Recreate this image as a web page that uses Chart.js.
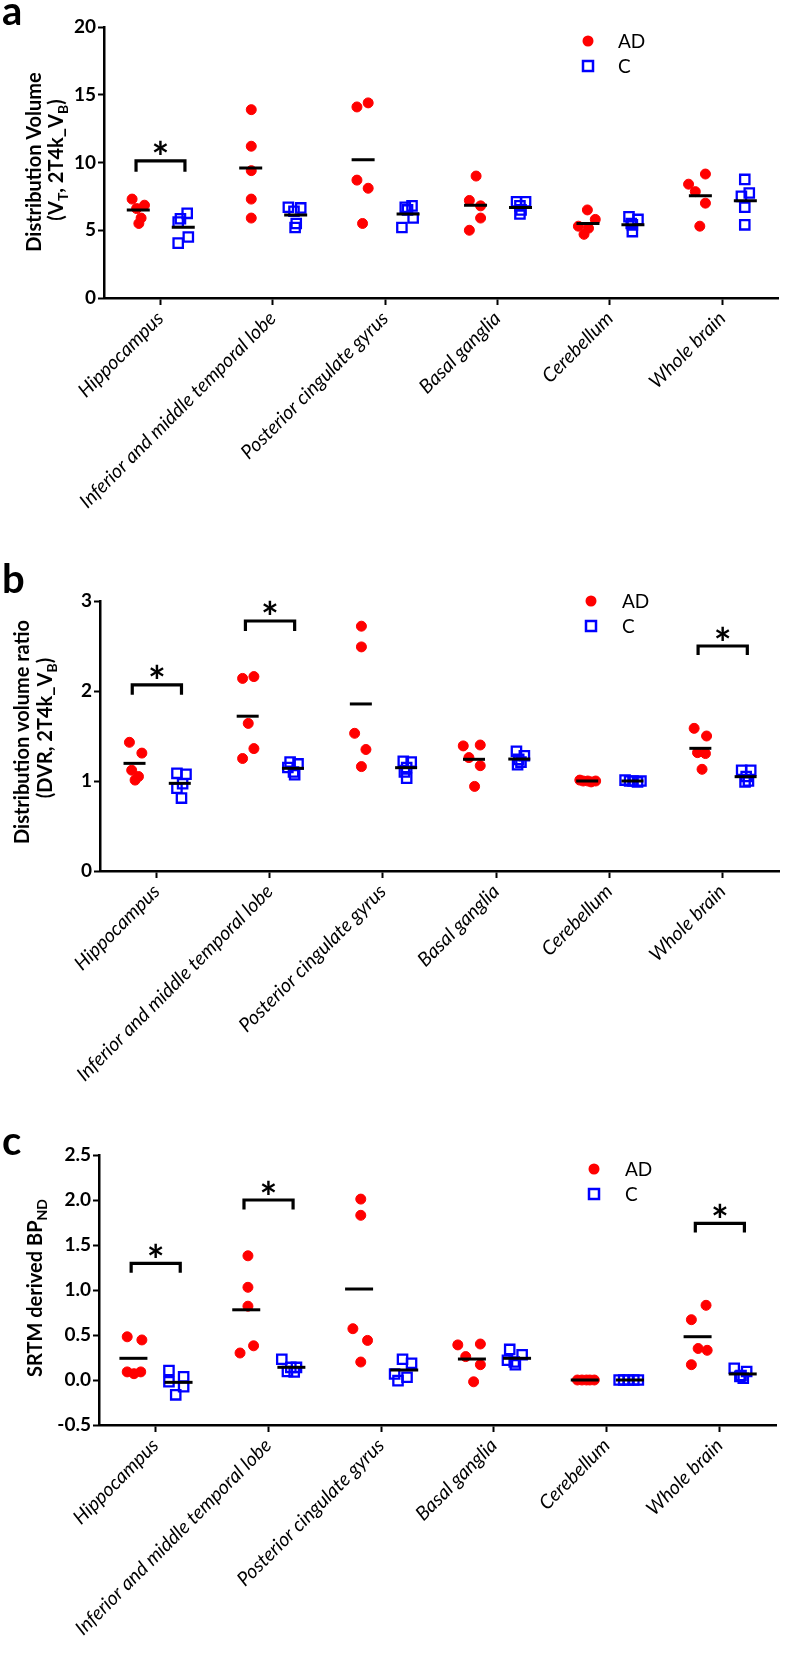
<!DOCTYPE html>
<html><head><meta charset="utf-8">
<script src="https://cdn.jsdelivr.net/npm/chart.js@4.4.1/dist/chart.umd.min.js"></script>
<style>
html,body{margin:0;padding:0;background:#fff;}
body{width:793px;height:1654px;position:relative;overflow:hidden;}
canvas{position:absolute;left:0;}
</style></head><body>
<canvas id="ca" width="793" height="560" style="top:0px"></canvas>
<canvas id="cb" width="793" height="570" style="top:560px"></canvas>
<canvas id="cc" width="793" height="524" style="top:1130px"></canvas>
<script>
// ---------- DATA ----------
const categories = ['Hippocampus', 'Inferior and middle temporal lobe', 'Posterior cingulate gyrus', 'Basal ganglia', 'Cerebellum', 'Whole brain'];
const groups = ['AD', 'C'];

// Panel a: Distribution Volume (VT, 2T4k_VB)
const aTicks = [0, 5, 10, 15, 20];
const aTickLabels = ['0', '5', '10', '15', '20'];
const aAD = [[7.3, 6.85, 6.6, 5.9, 5.5], [13.9, 11.2, 9.4, 7.3, 5.9], [14.4, 14.1, 8.7, 8.1, 5.5], [9.0, 7.2, 6.8, 5.9, 5.0], [6.5, 5.8, 5.3, 5.15, 4.7], [9.15, 8.4, 7.85, 7.0, 5.3]];
const aADjit = [[-0.25, -0.14, -0.21, -0.17, -0.19], [-0.19, -0.19, -0.19, -0.19, -0.19], [-0.15, -0.25, -0.25, -0.15, -0.20], [-0.19, -0.25, -0.15, -0.15, -0.25], [-0.20, -0.13, -0.28, -0.19, -0.23], [-0.15, -0.30, -0.24, -0.15, -0.20]];
const aC = [[6.25, 5.85, 5.6, 4.5, 4.05], [6.7, 6.65, 6.4, 5.5, 5.2], [6.8, 6.7, 6.5, 5.9, 5.2], [7.1, 7.1, 6.8, 6.5, 6.2], [6.0, 5.8, 5.5, 5.4, 4.9], [8.75, 7.75, 7.5, 6.7, 5.4]];
const aCjit = [[0.24, 0.18, 0.16, 0.25, 0.16], [0.14, 0.25, 0.19, 0.21, 0.20], [0.24, 0.18, 0.20, 0.25, 0.15], [0.17, 0.25, 0.20, 0.21, 0.20], [0.17, 0.25, 0.19, 0.20, 0.20], [0.20, 0.24, 0.17, 0.20, 0.20]];
const aMeanAD = [6.5, 9.6, 10.2, 6.85, 5.5, 7.55];
const aMeanC = [5.22, 6.13, 6.2, 6.67, 5.4, 7.17];
const aSig = [{cat: 0, top: 10.12, drop: 0.8}];

// Panel b: Distribution volume ratio (DVR, 2T4k_VB)
const bTicks = [0, 1, 2, 3];
const bTickLabels = ['0', '1', '2', '3'];
const bAD = [[1.43, 1.31, 1.12, 1.05, 1.01], [2.16, 2.14, 1.64, 1.36, 1.25], [2.72, 2.49, 1.53, 1.35, 1.16], [1.40, 1.39, 1.26, 1.17, 0.94], [1.01, 1.0, 1.0, 0.99, 1.0], [1.585, 1.5, 1.315, 1.305, 1.13]];
const bADjit = [[-0.24, -0.13, -0.22, -0.16, -0.19], [-0.14, -0.24, -0.19, -0.14, -0.24], [-0.19, -0.19, -0.25, -0.15, -0.19], [-0.14, -0.29, -0.24, -0.14, -0.19], [-0.26, -0.23, -0.19, -0.16, -0.12], [-0.25, -0.14, -0.22, -0.15, -0.18]];
const bC = [[1.085, 1.075, 0.97, 0.92, 0.81], [1.21, 1.19, 1.15, 1.10, 1.07], [1.22, 1.21, 1.15, 1.10, 1.03], [1.33, 1.28, 1.24, 1.21, 1.18], [1.01, 1.0, 1.0, 0.99, 1.0], [1.12, 1.12, 1.05, 0.99, 1.0]];
const bCjit = [[0.18, 0.26, 0.23, 0.18, 0.22], [0.18, 0.25, 0.16, 0.21, 0.22], [0.18, 0.25, 0.21, 0.19, 0.21], [0.18, 0.25, 0.20, 0.22, 0.19], [0.14, 0.18, 0.21, 0.25, 0.28], [0.17, 0.25, 0.21, 0.20, 0.23]];
const bMeanAD = [1.196, 1.72, 1.856, 1.241, 1.0, 1.363];
const bMeanC = [0.974, 1.141, 1.148, 1.244, 1.0, 1.048];
const bSig = [{cat: 0, top: 2.067, drop: 0.11}, {cat: 1, top: 2.778, drop: 0.11}, {cat: 5, top: 2.5, drop: 0.1}];

// Panel c: SRTM derived BPND
const cTicks = [-0.5, 0, 0.5, 1, 1.5, 2, 2.5];
const cTickLabels = ['-0.5', '0.0', '0.5', '1.0', '1.5', '2.0', '2.5'];
const cAD = [[0.48, 0.445, 0.09, 0.07, 0.09], [1.38, 1.03, 0.82, 0.38, 0.30], [2.01, 1.83, 0.57, 0.44, 0.20], [0.39, 0.40, 0.26, 0.17, -0.02], [0, 0, 0, 0, 0], [0.83, 0.67, 0.35, 0.33, 0.17]];
const cADjit = [[-0.25, -0.12, -0.25, -0.19, -0.13], [-0.18, -0.18, -0.18, -0.13, -0.25], [-0.18, -0.18, -0.25, -0.12, -0.18], [-0.32, -0.12, -0.25, -0.12, -0.18], [-0.26, -0.22, -0.18, -0.15, -0.11], [-0.12, -0.25, -0.19, -0.11, -0.25]];
const cC = [[0.105, 0.035, -0.02, -0.075, -0.165], [0.23, 0.14, 0.14, 0.095, 0.09], [0.23, 0.185, 0.067, 0.03, -0.007], [0.34, 0.28, 0.22, 0.17, 0.2], [0, 0, 0, 0, 0], [0.13, 0.095, 0.04, 0.05, 0.02]];
const cCjit = [[0.12, 0.25, 0.12, 0.25, 0.18], [0.12, 0.20, 0.25, 0.17, 0.23], [0.19, 0.27, 0.12, 0.23, 0.15], [0.14, 0.25, 0.12, 0.19, 0.18], [0.11, 0.15, 0.19, 0.24, 0.28], [0.13, 0.24, 0.18, 0.19, 0.21]];
const cMeanAD = [0.241, 0.78, 1.011, 0.233, 0.0, 0.481];
const cMeanC = [-0.026, 0.141, 0.111, 0.241, 0.0, 0.067];
const cSig = [{cat: 0, top: 1.296, drop: 0.105}, {cat: 1, top: 2.0, drop: 0.105}, {cat: 5, top: 1.74, drop: 0.1}];

// ---------- STYLE ----------
const RED = '#ff0000', BLUE = '#0000ff', BLACK = '#000000';
const FONT = 'Lato';
const GROUP_POS = [-0.195, 0.205];
const BR_L = -0.215, BR_R = 0.22;

function pts(vals, jit) {
  const out = [];
  vals.forEach((row, i) => row.forEach((v, k) => out.push({x: i + jit[i][k], y: v})));
  return out;
}
function meanPts(means, g) { return means.map((v, i) => ({x: i + GROUP_POS[g], y: v})); }

function drawRich(ctx, parts, cx, cy, size) {
  const main = `bold ${size}px ${FONT}`, sub = `bold ${Math.round(size * 0.68)}px ${FONT}`;
  let w = 0;
  const ws = parts.map(p => { ctx.font = p.sub ? sub : main; const m = ctx.measureText(p.t).width; w += m; return m; });
  ctx.save();
  ctx.translate(cx, cy);
  ctx.rotate(-Math.PI / 2);
  ctx.textBaseline = 'middle'; ctx.textAlign = 'left'; ctx.fillStyle = BLACK;
  let x = -w / 2;
  parts.forEach((p, i) => { ctx.font = p.sub ? sub : main; ctx.fillText(p.t, x, p.sub ? size * 0.32 : 0); x += ws[i]; });
  ctx.restore();
}
function textMid(ctx, t, x, y, font, align) {
  ctx.font = font; ctx.textAlign = align || 'left'; ctx.textBaseline = 'alphabetic';
  const m = ctx.measureText(t);
  ctx.fillText(t, x, y + (m.actualBoundingBoxAscent - m.actualBoundingBoxDescent) / 2);
}

function makeChart(id, cfg) {
  const canvas = document.getElementById(id);
  const W = canvas.width, H = canvas.height;
  const datasets = [
    {label: 'AD', data: pts(cfg.ad, cfg.adJit), pointStyle: 'circle', pointRadius: 5, pointBackgroundColor: RED, pointBorderColor: RED, pointBorderWidth: 1, order: 3},
    {label: 'C', data: pts(cfg.c, cfg.cJit), pointStyle: 'rect', pointRadius: 6.6, pointBackgroundColor: 'rgba(0,0,0,0)', pointBorderColor: BLUE, pointBorderWidth: 2.3, order: 2},
    {label: 'meanAD', data: meanPts(cfg.meanAD, 0), pointStyle: 'line', pointRadius: cfg.meanR, pointBorderColor: BLACK, pointBorderWidth: 3, order: 1},
    {label: 'meanC', data: meanPts(cfg.meanC, 1), pointStyle: 'line', pointRadius: cfg.meanR, pointBorderColor: BLACK, pointBorderWidth: 3, order: 1}
  ];
  cfg.sig.forEach(s => {
    datasets.push({label: 'sig', showLine: true, pointRadius: 0, borderColor: BLACK, borderWidth: 3.2, borderJoinStyle: 'miter', borderCapStyle: 'butt', fill: false, order: 0,
      data: [{x: s.cat + BR_L, y: s.top - s.drop}, {x: s.cat + BR_L, y: s.top}, {x: s.cat + BR_R, y: s.top}, {x: s.cat + BR_R, y: s.top - s.drop}]});
  });
  const plugin = {
    id: 'annot_' + id,
    afterDraw(chart) {
      const ctx = chart.ctx, xs = chart.scales.x, ys = chart.scales.y;
      ctx.save();
      ctx.fillStyle = BLACK;
      // asterisks
      cfg.sig.forEach(s => {
        const cx = (xs.getPixelForValue(s.cat + BR_L) + xs.getPixelForValue(s.cat + BR_R)) / 2;
        const cy = ys.getPixelForValue(s.top) - 13;
        textMid(ctx, '*', cx, cy, `bold 42px ${FONT}`, 'center');
      });
      // panel letter
      ctx.font = `bold 40px ${FONT}`; ctx.textAlign = 'left'; ctx.textBaseline = 'alphabetic';
      ctx.fillText(cfg.letter, 2, cfg.letterY);
      // y title
      cfg.titles.forEach(t => drawRich(ctx, t.parts, t.x, t.y, 20));
      // legend
      const L = cfg.legend;
      ctx.fillStyle = RED;
      ctx.beginPath(); ctx.arc(L.x, L.y, 5.5, 0, Math.PI * 2); ctx.fill();
      ctx.strokeStyle = BLUE; ctx.lineWidth = 2.5;
      ctx.strokeRect(L.x - 5, L.y + L.dy - 5, 10, 10);
      ctx.fillStyle = BLACK;
      textMid(ctx, groups[0], L.tx, L.y, `19px ${FONT}`);
      textMid(ctx, groups[1], L.tx, L.y + L.dy, `19px ${FONT}`);
      ctx.restore();
    }
  };
  return new Chart(canvas, {
    type: 'scatter',
    data: {datasets},
    plugins: [plugin],
    options: {
      responsive: false, animation: false, devicePixelRatio: 1, events: [],
      layout: {padding: {top: cfg.top, right: W - cfg.right, left: 0, bottom: 0}},
      plugins: {legend: {display: false}, tooltip: {enabled: false}},
      scales: {
        x: {
          type: 'linear', min: -0.5, max: categories.length - 0.5,
          afterBuildTicks: ax => { ax.ticks = categories.map((_, i) => ({value: i})); },
          afterFit: s => { s.height = H - cfg.bottom; },
          ticks: {autoSkip: false, maxRotation: 45, minRotation: 45, padding: 2, color: BLACK,
            font: {family: FONT, style: 'italic', size: 19.5}, callback: v => categories[v]},
          grid: {drawOnChartArea: false, drawTicks: true, tickLength: 7, tickWidth: 2, tickColor: BLACK},
          border: {color: BLACK, width: 2.5}
        },
        y: {
          type: 'linear', min: cfg.ticks[0], max: cfg.ticks[cfg.ticks.length - 1],
          afterBuildTicks: ax => { ax.ticks = cfg.ticks.map(v => ({value: v})); },
          afterFit: s => { s.width = cfg.left; },
          ticks: {padding: 2, color: BLACK, font: {family: FONT, weight: 'bold', size: 19},
            callback: v => cfg.tickLabels[cfg.ticks.indexOf(v)]},
          grid: {drawOnChartArea: false, drawTicks: true, tickLength: 6, tickWidth: 2, tickColor: BLACK},
          border: {color: BLACK, width: 2.5}
        }
      }
    }
  });
}

function build() {
  makeChart('ca', {ad: aAD, adJit: aADjit, c: aC, cJit: aCjit, meanAD: aMeanAD, meanC: aMeanC, sig: aSig,
    ticks: aTicks, tickLabels: aTickLabels, top: 27, bottom: 298, left: 104, right: 788, meanR: 11.5,
    letter: 'a', letterY: 25,
    titles: [{x: 35, y: 162, parts: [{t: 'Distribution Volume'}]},
             {x: 57, y: 160, parts: [{t: '(V'}, {t: 'T', sub: true}, {t: ', 2T4k_V'}, {t: 'B', sub: true}, {t: ')'}]}],
    legend: {x: 588, y: 41, dy: 25, tx: 618}});
  makeChart('cb', {ad: bAD, adJit: bADjit, c: bC, cJit: bCjit, meanAD: bMeanAD, meanC: bMeanC, sig: bSig,
    ticks: bTicks, tickLabels: bTickLabels, top: 41, bottom: 311, left: 100, right: 783, meanR: 11,
    letter: 'b', letterY: 33,
    titles: [{x: 23, y: 172, parts: [{t: 'Distribution volume ratio'}]},
             {x: 46, y: 168, parts: [{t: '(DVR, 2T4k_V'}, {t: 'B', sub: true}, {t: ')'}]}],
    legend: {x: 591, y: 41, dy: 25, tx: 622}});
  makeChart('cc', {ad: cAD, adJit: cADjit, c: cC, cJit: cCjit, meanAD: cMeanAD, meanC: cMeanC, sig: cSig,
    ticks: cTicks, tickLabels: cTickLabels, top: 25, bottom: 295, left: 99, right: 783, meanR: 14,
    letter: 'c', letterY: 25,
    titles: [{x: 36, y: 158, parts: [{t: 'SRTM derived BP'}, {t: 'ND', sub: true}]}],
    legend: {x: 594, y: 39, dy: 25, tx: 625}});
}
Promise.all([
  document.fonts.load(`bold 19px ${FONT}`), document.fonts.load(`italic 19px ${FONT}`), document.fonts.load(`19px ${FONT}`)
]).then(build, build);
</script>
</body></html>
